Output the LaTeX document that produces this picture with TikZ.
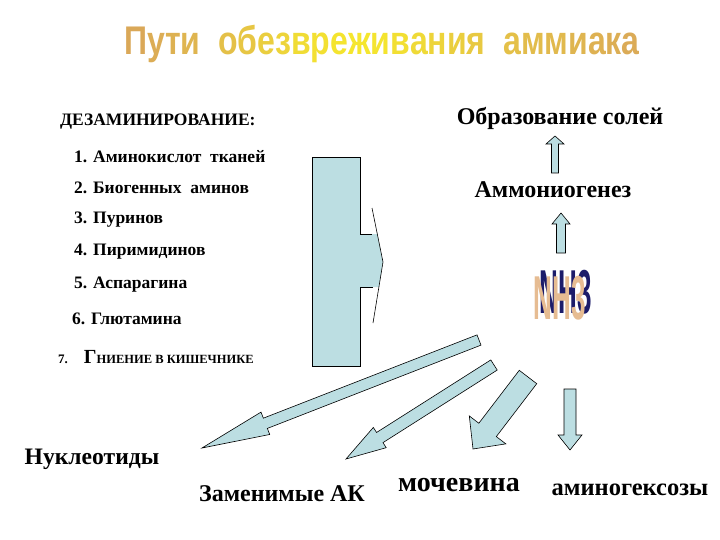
\documentclass[tikz,border=0pt]{standalone}
\usepackage{fontspec}
\setmainfont{Liberation Serif}
\newfontfamily\titlefont{Liberation Sans}
\usetikzlibrary{calc}
\definecolor{abl}{HTML}{BCDEE2}
\definecolor{tanc}{HTML}{D6A05E}
\definecolor{yelc}{HTML}{F5E62E}
\definecolor{navyc}{HTML}{1C1C6A}
\definecolor{nhtan}{HTML}{E6BC92}
\newcommand\ttl[2]{\textcolor{yelc!#1!tanc}{#2}}
\newcommand\nhtxt{\scalebox{0.42}[1]{NH3}}
\tikzset{
  blk/.style={fill=abl,draw=black,line width=0.6pt,line join=miter},
  outl/.style={draw=black,line width=0.6pt},
  lbl/.style={inner sep=0pt,font=\bfseries},
  item/.style={inner sep=0pt,anchor=west,font=\bfseries\fontsize{17.5}{17.5}\selectfont},
}
\newcommand\barrow[7]{%
  \pgfmathsetmacro\bang{atan2(-(#4-#2),#3-#1)}%
  \pgfmathsetmacro\blen{veclen(#3-#1,#4-#2)}%
  \pgfmathsetmacro\bneck{\blen-#7}%
  \begin{scope}[shift={(#1,#2)},rotate=\bang]
    \draw[blk] (0,-#5/2) -- (\bneck,-#5/2) -- (\bneck,-#6/2) -- (\blen,0)
      -- (\bneck,#6/2) -- (\bneck,#5/2) -- (0,#5/2) -- cycle;
  \end{scope}}
\begin{document}
\begin{tikzpicture}[x=1pt,y=-1pt]
\useasboundingbox (0,0) rectangle (720,540);
\fill[white] (0,0) rectangle (720,540);

% title
\node[anchor=base,inner sep=0pt,font=\titlefont\bfseries\fontsize{40}{42}\selectfont] (title) at (382,55)
 {\scalebox{0.8}[1]{\ttl{12}{П}\ttl{18}{у}\ttl{24}{т}\ttl{30}{и}\hspace{0.55em}%
 \ttl{45}{о}\ttl{55}{б}\ttl{65}{е}\ttl{75}{з}\ttl{85}{в}\ttl{92}{р}\ttl{97}{е}\ttl{100}{ж}\ttl{97}{и}\ttl{90}{в}\ttl{82}{а}\ttl{74}{н}\ttl{66}{и}\ttl{58}{я}\hspace{0.55em}%
 \ttl{45}{а}\ttl{40}{м}\ttl{35}{м}\ttl{30}{и}\ttl{25}{а}\ttl{20}{к}\ttl{15}{а}}};

% left list
\node[item] (dez) at (60,122) {ДЕЗАМИНИРОВАНИЕ:};
\node[item] (i1) at (74,157) {1. Аминокислот\ \ тканей};
\node[item] (i2) at (74,188) {2. Биогенных\ \ аминов};
\node[item] (i3) at (74,220) {3. Пуринов};
\node[item] (i4) at (74,252) {4. Пиримидинов};
\node[item] (i5) at (74,285) {5. Аспарагина};
\node[item] (i6) at (72,319) {6. Глютамина};
\node[lbl,anchor=base west] (i7) at (58,363) {\fontsize{13}{13}\selectfont 7.\hspace{16pt}\fontsize{20}{20}\selectfont Г\fontsize{12.5}{12.5}\selectfont НИЕНИЕ В КИШЕЧНИКЕ};

% big block arrow
\fill[abl] (312,157) rectangle (360,366);
\fill[abl] (360,234) -- (377.3,234) -- (383,262) -- (378.9,287) -- (360,287) -- cycle;
\draw[outl] (360,234) -- (360,157) -- (312,157) -- (312,366) -- (360,366) -- (360,287);
\draw[outl] (360,234) -- (372,234);
\draw[outl] (360,287) -- (373,287);
\draw[outl] (372,208) -- (383,262) -- (373,323);

% right column
\node[lbl,font=\bfseries\fontsize{24}{24}\selectfont] (salts) at (560,118) {Образование солей};
\node[lbl,font=\bfseries\fontsize{24}{24}\selectfont] (ammg) at (553,190) {Аммониогенез};
\barrow{555}{173}{555}{136}{7}{18}{8}
\barrow{561}{253}{561}{213}{9}{18}{11}

% NH3 logo (front face with navy extrusion)
\node[inner sep=0pt,font=\titlefont\bfseries\fontsize{62}{62}\selectfont] (nh) at (560,295)
 {\rlap{\hspace{6pt}\raisebox{6pt}{\textcolor{navyc}{\nhtxt}}}\textcolor{nhtan}{\nhtxt}};

% bottom arrows
\barrow{479}{340}{202}{448}{11}{24}{68}
\barrow{494}{365}{346}{459}{12}{24}{40}
\barrow{528}{377}{473}{449}{22}{46}{24}
\barrow{570}{389}{570}{450}{12}{24}{15}

% bottom labels
\node[lbl,font=\bfseries\fontsize{23.6}{23.6}\selectfont] (nucl) at (92,459) {Нуклеотиды};
\node[lbl,font=\bfseries\fontsize{24}{24}\selectfont] (zam) at (282,494) {Заменимые АК};
\node[lbl,font=\bfseries\fontsize{28}{28}\selectfont] (moch) at (459,485) {мочевина};
\node[lbl,font=\bfseries\fontsize{24.5}{24.5}\selectfont] (amhx) at (630,490) {аминогексозы};
\end{tikzpicture}
\end{document}
